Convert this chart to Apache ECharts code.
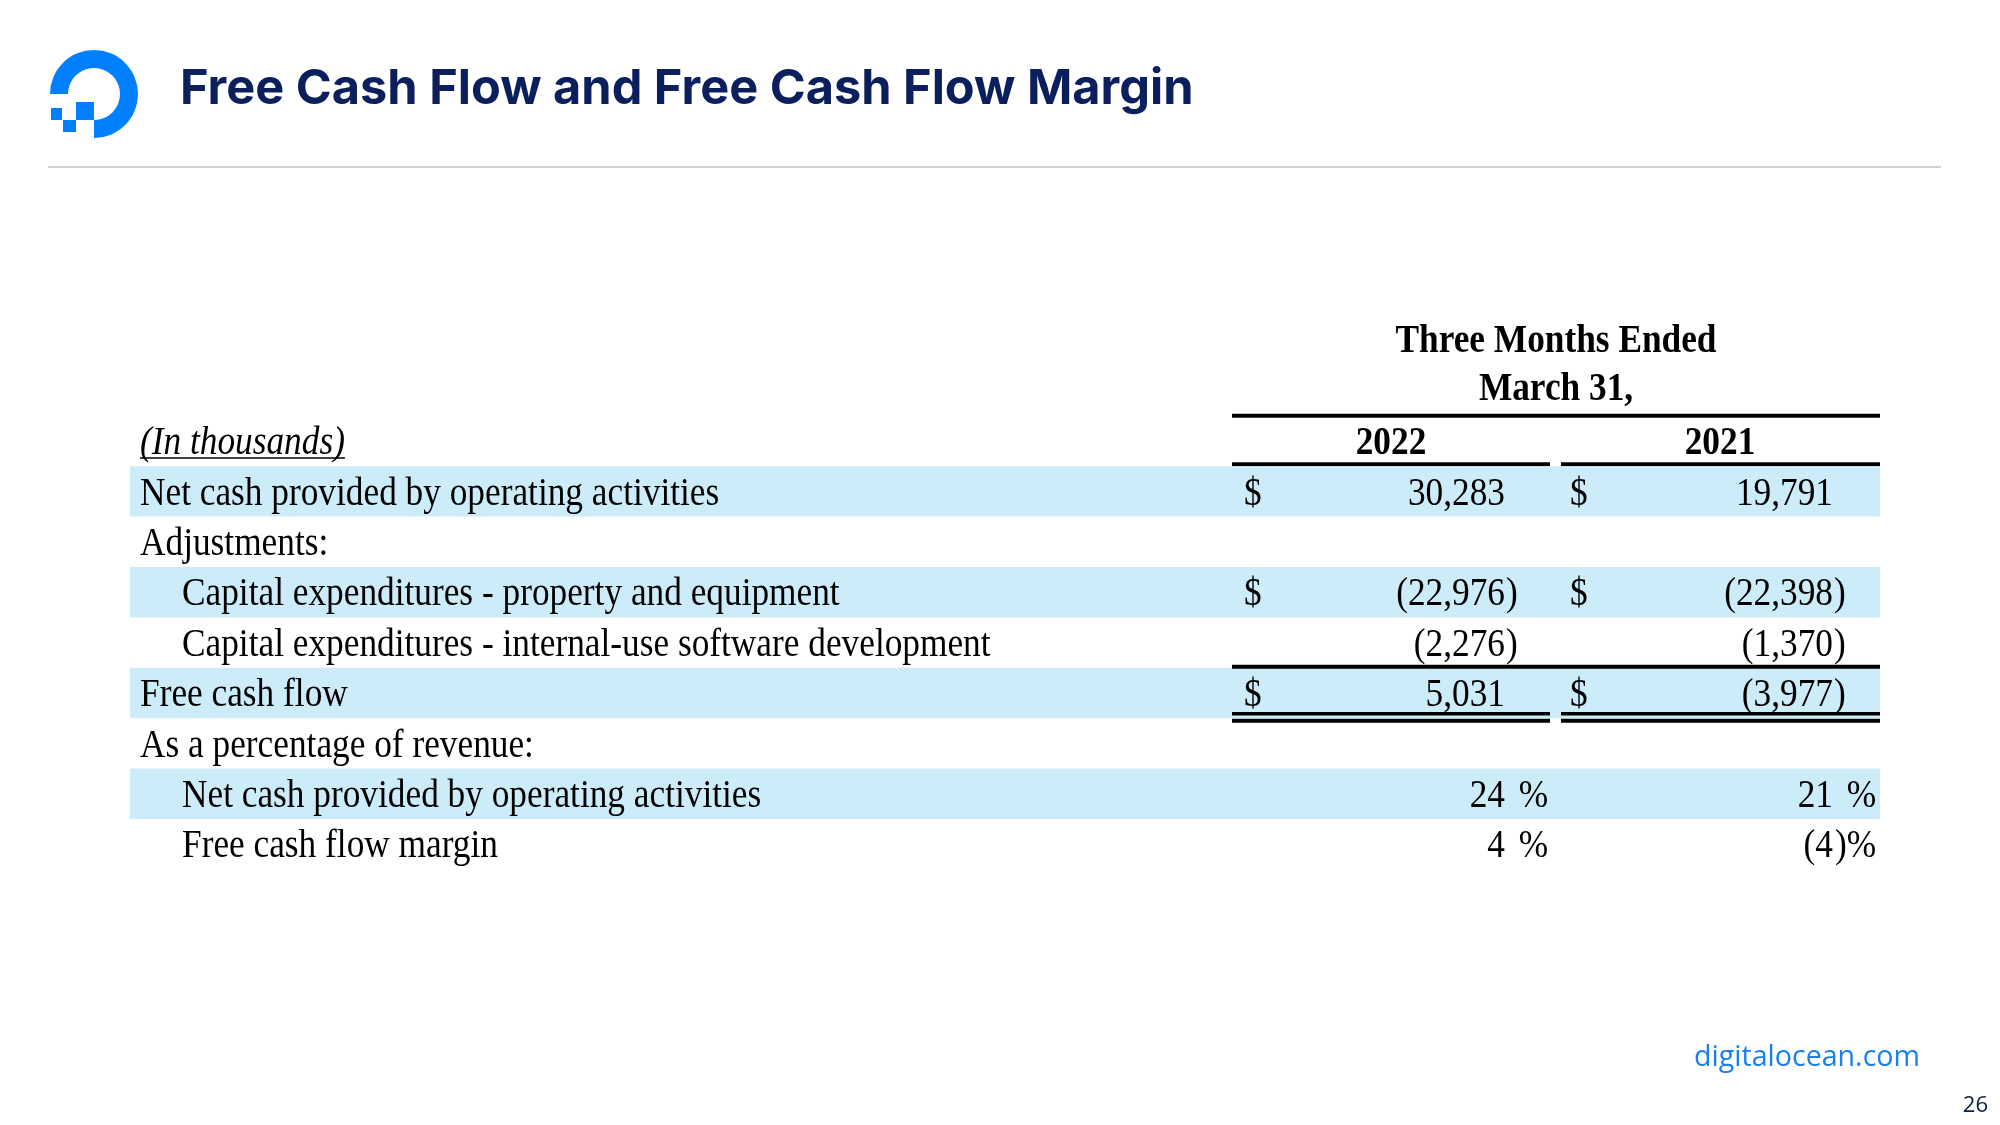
<!DOCTYPE html>
<html>
<head>
<meta charset="utf-8">
<script src="https://cdn.jsdelivr.net/npm/echarts@6/dist/echarts.min.js"></script>
<style>
html,body{margin:0;padding:0;background:#fff;}
#chart{width:2000px;height:1125px;}
</style>
</head>
<body>
<div id="chart"></div>
<script>
// ---------------- DATA ----------------
const titleText = 'Free Cash Flow and Free Cash Flow Margin';
const headerLines = ['Three Months Ended', 'March 31,'];
const years = ['2022', '2021'];
const rowLabels = [
  '(In thousands)',
  'Net cash provided by operating activities',
  'Adjustments:',
  'Capital expenditures - property and equipment',
  'Capital expenditures - internal-use software development',
  'Free cash flow',
  'As a percentage of revenue:',
  'Net cash provided by operating activities',
  'Free cash flow margin'
];
const rowIndent = [0, 0, 0, 1, 1, 0, 0, 1, 1];
const values2022 = [null, 30283, null, -22976, -2276, 5031, null, 24, 4];
const values2021 = [null, 19791, null, -22398, -1370, -3977, null, 21, -4];
const rowUnit = [null, 'usd', null, 'usd', 'usd', 'usd', null, 'pct', 'pct'];
const showDollar = [false, true, false, true, false, true, false, false, false];
const banded = [false, true, false, true, false, true, false, true, false];
const footerText = 'digitalocean.com';
const pageNumber = '26';

// ---------------- LAYOUT / STYLE ----------------
const SERIF = '"Liberation Serif", "Times New Roman", serif';
const FS = 39, SX = 0.905, TDY = 3;
const BAND = '#cdecfa';
const L = {
  labelX: [140, 182],
  dollarX: [1244, 1570],
  digitX: [1505, 1833],
  yearX: [1391, 1720],
  bandX: [130, 1880],
  span: [[1232, 1880]],
  split: [[1232, 1550], [1561, 1880]]
};
const rules = [
  { row: 0, edge: 'top', dy: 0, cols: 'span', w: 4 },
  { row: 0, edge: 'bottom', dy: -2, cols: 'split', w: 4 },
  { row: 5, edge: 'top', dy: -1, cols: 'span', w: 4 },
  { row: 5, edge: 'bottom', dy: -4.5, cols: 'split', w: 3.5 },
  { row: 5, edge: 'bottom', dy: 2.5, cols: 'split', w: 4 }
];

function font(weight, style) {
  return (style || 'normal') + ' ' + (weight || 'normal') + ' ' + FS + 'px ' + SERIF;
}
function txt(x, y, text, align, weight, style) {
  return {
    type: 'text', x: x, y: y + TDY, scaleX: SX,
    style: { text: text, x: 0, y: 0, align: align || 'left', verticalAlign: 'middle',
      font: font(weight, style), fill: '#000' }
  };
}
function fmt(v) {
  return String(Math.abs(v)).replace(/\B(?=(\d{3})+(?!\d))/g, ',');
}
function measure(text, f) {
  const c = document.createElement('canvas').getContext('2d');
  c.font = f;
  return c.measureText(text).width;
}

function renderItem(params, api) {
  const i = params.dataIndex;
  const yc = api.coord([0, i])[1];
  const h = api.size([0, 1])[1];
  const top = yc - h / 2, bottom = yc + h / 2;
  const children = [];
  if (banded[i]) {
    children.push({ type: 'rect', shape: { x: L.bandX[0], y: top, width: L.bandX[1] - L.bandX[0], height: h },
      style: { fill: BAND } });
  }
  if (i === 0) {
    children.push(txt(L.labelX[0], yc, rowLabels[i], 'left', 'normal', 'italic'));
    const w = measure(rowLabels[i], font('normal', 'italic')) * SX;
    children.push({ type: 'line', shape: { x1: L.labelX[0], y1: yc + 17, x2: L.labelX[0] + w, y2: yc + 17 },
      style: { stroke: '#000', lineWidth: 1.5 } });
    years.forEach(function (yr, k) { children.push(txt(L.yearX[k], yc, yr, 'center', 'bold')); });
  } else {
    children.push(txt(L.labelX[rowIndent[i]], yc, rowLabels[i], 'left'));
  }
  [values2022[i], values2021[i]].forEach(function (v, k) {
    if (v === null || v === undefined) return;
    if (showDollar[i]) children.push(txt(L.dollarX[k], yc, '$', 'left'));
    let main = fmt(v), suffix = '', sdx = 1;
    if (rowUnit[i] === 'usd') { if (v < 0) { main = '(' + main; suffix = ')'; } }
    else if (rowUnit[i] === 'pct') {
      if (v < 0) { main = '(' + main; suffix = ')%'; sdx = 2; } else { suffix = ' %'; sdx = 5; }
    }
    children.push(txt(L.digitX[k], yc, main, 'right'));
    if (suffix) children.push(txt(L.digitX[k] + sdx, yc, suffix, 'left'));
  });
  rules.forEach(function (r) {
    if (r.row !== i) return;
    const y = (r.edge === 'top' ? top : bottom) + r.dy;
    L[r.cols].forEach(function (seg) {
      children.push({ type: 'line', shape: { x1: seg[0], y1: y, x2: seg[1], y2: y },
        style: { stroke: '#000', lineWidth: r.w } });
    });
  });
  return { type: 'group', children: children };
}

const chart = echarts.init(document.getElementById('chart'), null, { renderer: 'canvas' });
const rowH = 50.4;
const gridTop = 441 - rowH / 2;
chart.setOption({
  animation: false,
  backgroundColor: '#fff',
  grid: { left: 0, right: 0, top: gridTop, height: rowH * rowLabels.length },
  xAxis: { type: 'value', min: 0, max: 2000, show: false },
  yAxis: { type: 'category', data: rowLabels.map(function (_, i) { return 'r' + i; }), inverse: true, show: false },
  series: [{
    type: 'custom',
    renderItem: renderItem,
    data: rowLabels.map(function (_, i) { return [0, i]; }),
    silent: true
  }],
  graphic: [
    // logo
    { type: 'sector', shape: { cx: 94, cy: 94, r: 44, r0: 26, startAngle: Math.PI, endAngle: Math.PI * 2.5, clockwise: true },
      style: { fill: '#0080ff' } },
    { type: 'rect', shape: { x: 76, y: 102, width: 18, height: 18 }, style: { fill: '#0080ff' } },
    { type: 'rect', shape: { x: 63, y: 120, width: 13, height: 12 }, style: { fill: '#0080ff' } },
    { type: 'rect', shape: { x: 51, y: 108, width: 11, height: 12 }, style: { fill: '#0080ff' } },
    // title
    { type: 'text', x: 180, y: 89, style: { text: titleText, x: 0, y: 0, verticalAlign: 'middle',
      font: 'bold 48.7px Inter, "Noto Sans", sans-serif', fill: '#0a1f5c' } },
    // separator
    { type: 'line', shape: { x1: 48, y1: 167, x2: 1941, y2: 167 }, style: { stroke: '#d0d0d0', lineWidth: 2 } },
    // header
    { type: 'text', x: 1556, y: 338 + TDY + 1, scaleX: SX, style: { text: headerLines[0], x: 0, y: 0, align: 'center', verticalAlign: 'middle', font: font('bold'), fill: '#000' } },
    { type: 'text', x: 1556, y: 386 + TDY + 1, scaleX: SX, style: { text: headerLines[1], x: 0, y: 0, align: 'center', verticalAlign: 'middle', font: font('bold'), fill: '#000' } },
    // footer
    { type: 'text', x: 1920, y: 1058, style: { text: footerText, x: 0, y: 0, align: 'right', verticalAlign: 'middle',
      font: '28.6px "Open Sans", sans-serif', fill: '#1a80f0' } },
    { type: 'text', x: 1988, y: 1106, style: { text: pageNumber, x: 0, y: 0, align: 'right', verticalAlign: 'middle',
      font: '22px "Open Sans", sans-serif', fill: '#0a1f3c' } }
  ]
});
</script>
</body>
</html>
